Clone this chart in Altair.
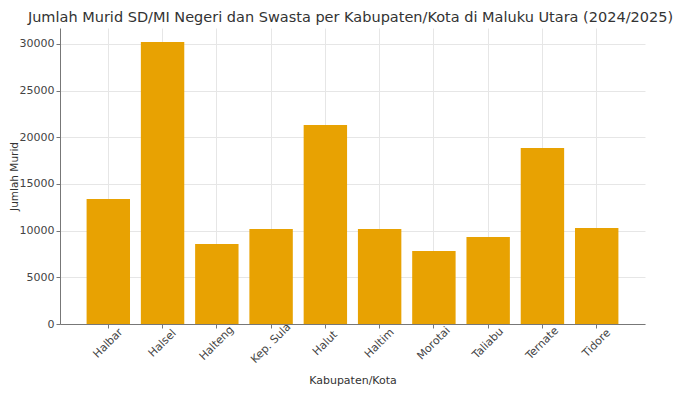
import altair as alt
import pandas as pd

regions = ["Halbar", "Halsel", "Halteng", "Kep. Sula", "Halut", "Haltim", "Morotai", "Taliabu", "Ternate", "Tidore"]
students = [13400, 30200, 8570, 10180, 21320, 10180, 7820, 9320, 18860, 10290]

df = pd.DataFrame({"Kabupaten/Kota": regions, "Jumlah Murid": students})

font = "DejaVu Sans"
chart = alt.Chart(df).mark_bar(color="#E8A202").encode(
    x=alt.X("Kabupaten/Kota:N", sort=regions,
            scale=alt.Scale(paddingInner=0.2, paddingOuter=0.49),
            axis=alt.Axis(labelAngle=-45, labelAlign="center", labelBaseline="middle",
                          labelPadding=15, tickSize=4,
                          bandPosition=0.5, grid=True, gridColor="#e6e6e6",
                          domainColor="#777777", tickColor="#777777", labelColor="#444444",
                          titleColor="#333333", labelFont=font, titleFont=font,
                          labelFontSize=11, titleFontSize=11, titleFontWeight="normal",
                          titlePadding=10)),
    y=alt.Y("Jumlah Murid:Q", scale=alt.Scale(domain=[0, 31710], nice=False),
            axis=alt.Axis(values=[0, 5000, 10000, 15000, 20000, 25000, 30000], format="d",
                          grid=True, gridColor="#e6e6e6", domainColor="#777777",
                          tickColor="#777777", tickSize=4, labelColor="#444444", titleColor="#333333",
                          labelFont=font, titleFont=font, labelFontSize=11,
                          titleFontSize=10.5, titleFontWeight="normal", titlePadding=0)),
).properties(
    width=585, height=296,
    autosize=alt.AutoSizeParams(type="none"),
    title=alt.TitleParams("Jumlah Murid SD/MI Negeri dan Swasta per Kabupaten/Kota di Maluku Utara (2024/2025)",
                          font=font, fontSize=14.5, fontWeight="normal", color="#333333",
                          anchor="middle", frame="group", offset=3, dx=-2),
    padding={"left": 52, "top": 20, "right": 45, "bottom": 64},
).configure_view(stroke=None)

chart.save("out.html", embed_options={"renderer": "svg", "actions": False})
